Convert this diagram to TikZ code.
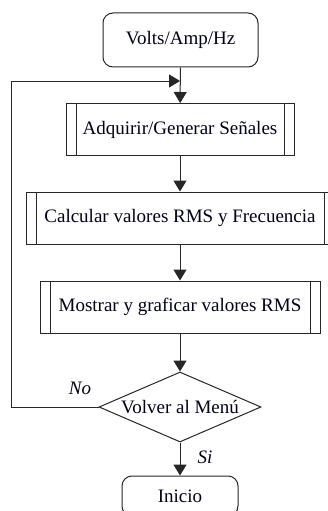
\documentclass[tikz,border=0pt]{standalone}
\usepackage{fontspec}
\setmainfont{Liberation Serif}
\usetikzlibrary{arrows.meta,shapes.geometric}

\tikzset{
  caja/.style={draw=black!85, line width=1pt, rectangle, inner sep=0pt,
    text=black!90!blue, font=\fontsize{19}{21}\selectfont},
  subproc/.style={caja, minimum width=#1, minimum height=52pt,
    path picture={
      \draw[black!85, line width=1pt]
        ([xshift=10pt]path picture bounding box.north west) --
        ([xshift=10pt]path picture bounding box.south west);
      \draw[black!85, line width=1pt]
        ([xshift=-10pt]path picture bounding box.north east) --
        ([xshift=-10pt]path picture bounding box.south east);
    }},
  terminal/.style={caja, rounded corners=10pt, minimum width=#1},
  decision/.style={caja, diamond, aspect=2.3, minimum width=162pt,
    minimum height=70pt},
  flecha/.style={draw=black!85, line width=1pt,
    -{Triangle[width=13pt,length=11pt]}},
  etiq/.style={text=black!90!blue, font=\fontsize{19}{21}\selectfont\itshape},
}

\begin{document}
\begin{tikzpicture}[x=1pt, y=-1pt]
    \useasboundingbox (0,0) rectangle (328,511);
    \clip (0,0) rectangle (328,511);
    % nodes of the flow
    \node[terminal=155pt, minimum height=54pt] (volts) at (180.5,40) {Volts/Amp/Hz};
    \node[subproc=228pt] (adquirir) at (180,129.5) {Adquirir/Generar Señales};
    \node[subproc=308pt] (calcular) at (180,218) {Calcular valores RMS y Frecuencia};
    \node[subproc=280pt] (mostrar) at (180,307) {Mostrar y graficar valores RMS};
    \node[decision] (volver) at (180,407) {Volver al Menú};
    \node[terminal=116pt, minimum height=40pt] (inicio) at (180,496) {Inicio};
    \coordinate (union) at (180,81);
    % connectors
    \draw[flecha] (volts) -- (adquirir);
    \draw[flecha] (adquirir) -- (calcular);
    \draw[flecha] (calcular) -- (mostrar);
    \draw[flecha] (mostrar) -- (volver);
    \draw[flecha] (volver) -- (inicio);
    % loop back
    \draw[flecha] (volver.west) -- (11,407) |- (union);
    \node[etiq] (no) at (80,388) {No};
    \node[etiq] (si) at (205,457) {Si};
\end{tikzpicture}
\end{document}
